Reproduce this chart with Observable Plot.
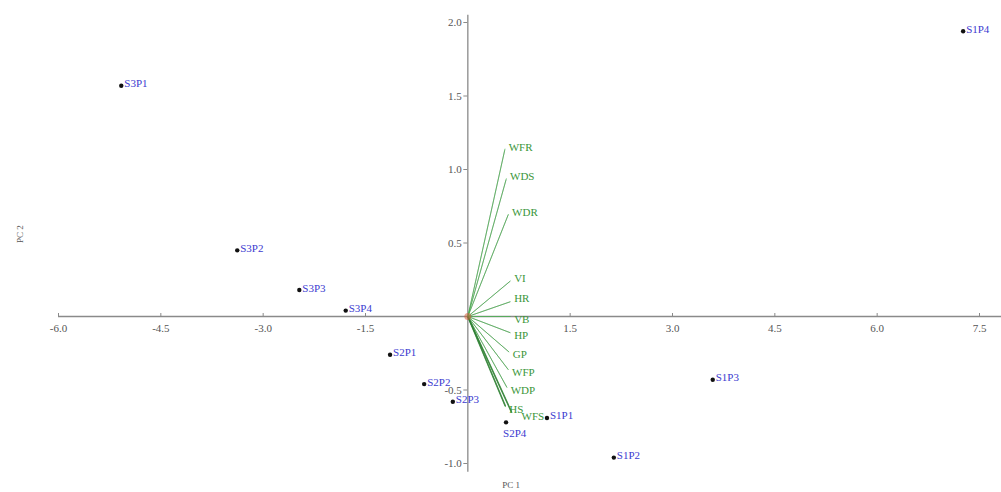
<!DOCTYPE html>
<html>
<head>
<meta charset="utf-8">
<script src="https://cdn.jsdelivr.net/npm/d3@7"></script>
<script src="https://cdn.jsdelivr.net/npm/@observablehq/plot@0.6"></script>
<style>
  html, body { margin: 0; padding: 0; background: #fff; }
  svg text { font-family: "Liberation Serif", "DejaVu Serif", serif; }
</style>
</head>
<body>
<div id="chart"></div>
<script>
// Sample scores (PC 1, PC 2)
const sampleNames = ["S3P1","S3P2","S3P3","S3P4","S2P1","S2P2","S2P3","S2P4","S1P1","S1P2","S1P3","S1P4"];
const sampleX = [-5.08, -3.38, -2.47, -1.79, -1.14, -0.64, -0.22, 0.56, 1.16, 2.14, 3.59, 7.26];
const sampleY = [1.57, 0.45, 0.18, 0.04, -0.26, -0.46, -0.58, -0.72, -0.69, -0.96, -0.43, 1.94];

// Variable loadings (vector ends)
const varNames = ["WFR","WDS","WDR","VI","HR","VB","HP","GP","WFP","WDP","HS","WFS"];
const varX = [0.54, 0.56, 0.59, 0.62, 0.62, 0.62, 0.62, 0.60, 0.59, 0.57, 0.55, 0.64];
const varY = [1.13, 0.93, 0.69, 0.24, 0.10, 0.00, -0.11, -0.24, -0.36, -0.48, -0.61, -0.65];

// Axis ticks
const xTicks = [-6.0, -4.5, -3.0, -1.5, 1.5, 3.0, 4.5, 6.0, 7.5];
const yTicks = [-1.0, -0.5, 0.5, 1.0, 1.5, 2.0];
const xExtent = [-6.0, 7.85];
const yExtent = [-1.06, 2.05];

const samples = sampleNames.map((n, i) => ({name: n, x: sampleX[i], y: sampleY[i]}));
const vars = varNames.map((n, i) => ({name: n, x: varX[i], y: varY[i]}));

const font = '"Liberation Serif", "DejaVu Serif", serif';
const fmt = d => d.toFixed(1);
const green = "#3a963a";

const chart = Plot.plot({
  width: 1001,
  height: 492,
  marginTop: 22,
  marginBottom: 29,
  marginLeft: 58,
  marginRight: 22,
  style: {fontFamily: font, fontSize: "11px", background: "#fff"},
  x: {domain: [-6.0, 7.5], axis: null},
  y: {domain: [-1.0, 2.0], axis: null},
  marks: [
    // axes through origin
    Plot.ruleY([0], {x1: xExtent[0], x2: xExtent[1], stroke: "#8a8a8a", strokeWidth: 1.3}),
    Plot.ruleX([0], {y1: yExtent[0], y2: yExtent[1], stroke: "#8a8a8a", strokeWidth: 1.3}),
    // tick marks
    Plot.ruleX(xTicks, {x: d => d, y1: 0, y2: 0, insetTop: -3, insetBottom: -1, stroke: "#8a8a8a"}),
    Plot.ruleY(yTicks, {y: d => d, x1: 0, x2: 0, insetLeft: -4, stroke: "#8a8a8a"}),
    // tick labels
    Plot.text(xTicks, {x: d => d, y: 0, text: fmt, dy: 12, fill: "#555", fontSize: 11}),
    Plot.text(yTicks, {x: 0, y: d => d, text: fmt, dx: -6, textAnchor: "end", fill: "#555", fontSize: 11}),
    // axis titles
    Plot.text(["PC 1"], {frameAnchor: "bottom", dy: 24, dx: -8, fill: "#555", fontSize: 9}),
    Plot.text(["PC 2"], {frameAnchor: "left", dx: -38, rotate: -90, fill: "#555", fontSize: 9}),
    // loading vectors
    Plot.link(vars, {x1: 0, y1: 0, x2: "x", y2: "y", stroke: "#a0a0a0", strokeWidth: 0.8, strokeOpacity: 0.9}),
    Plot.link(vars, {x1: 0, y1: 0, x2: d => d.x * 1.01, y2: d => d.y * 1.01, stroke: "#3cb043", strokeWidth: 1, strokeOpacity: 0.7}),
    Plot.link(vars.filter(d => d.name === "HS" || d.name === "WFS"), {x1: 0, y1: 0, x2: "x", y2: "y", stroke: "#2e7d32", strokeWidth: 1.6, strokeOpacity: 0.75}),
    Plot.text(vars.filter(d => d.y > 0.05), {x: "x", y: "y", text: "name", textAnchor: "start", dx: 4, dy: -3, fill: green, fontSize: 11}),
    Plot.text(vars.filter(d => d.y <= 0.05 && d.name !== "WFS"), {x: "x", y: "y", text: "name", textAnchor: "start", dx: 4, dy: 3, fill: green, fontSize: 11}),
    Plot.text(vars.filter(d => d.name === "WFS"), {x: "x", y: "y", text: "name", textAnchor: "start", dx: 10, dy: 4, fill: green, fontSize: 11}),
    // origin marker
    Plot.dot([0], {x: 0, y: 0, r: 3.5, fill: "#d2603c", fillOpacity: 0.55}),
    // sample points
    Plot.dot(samples, {x: "x", y: "y", r: 2.2, fill: "#111"}),
    Plot.text(samples.filter(d => d.name !== "S2P4"), {x: "x", y: "y", text: "name", textAnchor: "start", dx: 3, dy: -2, fill: "#3b3bd0", fontSize: 11}),
    Plot.text(samples.filter(d => d.name === "S2P4"), {x: "x", y: "y", text: "name", textAnchor: "start", dx: -3, dy: 11, fill: "#3b3bd0", fontSize: 11})
  ]
});
document.getElementById("chart").appendChild(chart);
</script>
</body>
</html>
